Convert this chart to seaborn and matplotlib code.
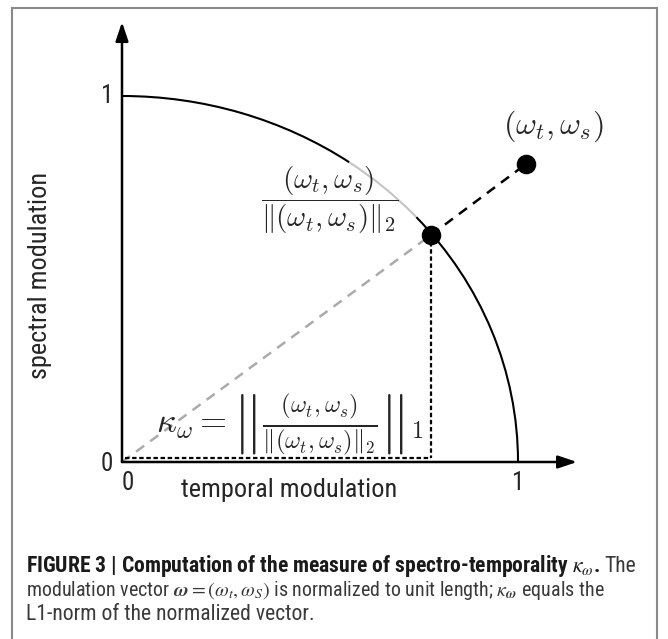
import numpy as np
import pandas as pd
import seaborn as sns
import matplotlib
matplotlib.use("Agg")
import matplotlib.pyplot as plt
from matplotlib.patches import Arc, Rectangle
from matplotlib import font_manager

# ---- data ----
outer_point = [1.02, 0.814]      # (omega_t, omega_s)
norm_point = [0.78, 0.62]        # normalized vector on the unit circle
tick_values = [0, 1]
tick_labels = ["0", "1"]
x_label = "temporal modulation"
y_label = "spectral modulation"

sns.set_theme(style="white")
avail = {f.name for f in font_manager.fontManager.ttflist}
font = "Liberation Sans"
width_factor = 1.0
for name, wf in [("Roboto Condensed", 0.88), ("Liberation Sans Narrow", 0.82)]:
    if name in avail:
        font, width_factor = name, wf
        break
plt.rcParams["font.family"] = [font, "DejaVu Sans"]
plt.rcParams["mathtext.fontset"] = "cm"

W, H = 668, 639
fig = plt.figure(figsize=(W / 100, H / 100), dpi=100)
ax = fig.add_axes([0, 0, 1, 1])
ox, oy, ux, uy = 122, 462, 396, 366
ax.set_xlim(-ox / ux, (W - ox) / ux)
ax.set_ylim(-(H - oy) / uy, oy / uy)
ax.axis("off")

# frame
fig.patches.append(Rectangle((12 / W, -0.05), (657 - 12) / W, 1.05 - 8 / H,
                             transform=fig.transFigure, fill=False,
                             edgecolor="#8a8a8a", lw=1.5))

# axes arrows
arrow_kw = dict(arrowstyle="-|>,head_length=0.95,head_width=0.32", lw=1.8,
                color="black", shrinkA=0, shrinkB=0)
ax.annotate("", xy=(0, 1.202), xytext=(0, 0), arrowprops=arrow_kw)
ax.annotate("", xy=(1.149, 0), xytext=(0, 0), arrowprops=arrow_kw)

# unit circle arc (part behind the label is greyed)
ax.add_patch(Arc((0, 0), 2, 2, theta1=0, theta2=42, lw=1.5, color="black", zorder=2))
ax.add_patch(Arc((0, 0), 2, 2, theta1=42, theta2=55, lw=1.5, color="#c4c4c4", zorder=2))
ax.add_patch(Arc((0, 0), 2, 2, theta1=55, theta2=90, lw=1.5, color="black", zorder=2))

# lines
ax.plot([0, norm_point[0]], [0, norm_point[1]], color="#ababab", lw=1.8,
        dashes=(4, 3), zorder=2)
ax.plot([norm_point[0], outer_point[0]], [norm_point[1], outer_point[1]],
        color="black", lw=1.8, dashes=(4, 3), zorder=2)
ax.plot([norm_point[0], norm_point[0]], [norm_point[1], 0.01], color="black",
        lw=1.6, dashes=(2, 1.2), zorder=2)
ax.plot([0.008, norm_point[0]], [0.01, 0.01], color="black",
        lw=1.6, dashes=(2, 1.2), zorder=2)

# points
dots = pd.DataFrame({"x": [norm_point[0], outer_point[0]],
                     "y": [norm_point[1], outer_point[1]]})
sns.scatterplot(data=dots, x="x", y="y", ax=ax, s=170, color="black",
                edgecolor="black", zorder=5, legend=False)

# tick labels
tfs = 18
ax.text(-0.022, tick_values[1], tick_labels[1], ha="right", va="center", fontsize=tfs)
ax.text(-0.022, tick_values[0] - 0.005, tick_labels[0], ha="right", va="center", fontsize=tfs)
ax.text(0.015, -0.025, tick_labels[0], ha="center", va="top", fontsize=tfs)
ax.text(tick_values[1], -0.025, tick_labels[1], ha="center", va="top", fontsize=tfs)

lfs = 16.6 / width_factor
ax.text(0.422, -0.077, x_label, ha="center", va="center", fontsize=lfs)
ax.text(-0.207, 0.51, y_label, ha="center", va="center", rotation=90, fontsize=lfs)

# math labels
ax.text(1.088, 0.918, r"$(\omega_t,\omega_s)$", ha="center", va="center", fontsize=23)
ax.text(0.525, 0.716, r"$\dfrac{(\omega_t,\omega_s)}{\|(\omega_t,\omega_s)\|_2}$",
        ha="center", va="center", fontsize=21, zorder=3)
ax.text(0.424, 0.10,
        r"$\kappa_\omega = \left\| \frac{(\omega_t,\omega_s)}{\|(\omega_t,\omega_s)\|_2} \right\|_1$",
        ha="center", va="center", fontsize=25, zorder=3)

# caption
cfs = 13.3 / width_factor
x0 = 26 / W
fig.canvas.draw()
r = fig.canvas.get_renderer()
y1 = 1 - 566 / H
t1 = fig.text(x0, y1, r"FIGURE 3 | Computation of the measure of spectro-temporality $\boldsymbol{\kappa_{\omega}}$.",
              family=font, weight="bold", fontsize=cfs * 1.033, va="center", ha="left",
              color="#1a1a1a", math_fontfamily="stix")
bb = t1.get_window_extent(r)
fig.text(bb.x1 / W + 4 / W, y1, "The", family=font, fontsize=cfs * 1.033, va="center",
         ha="left", color="#3a3a3a")
fig.text(x0, 1 - 590 / H,
         r"modulation vector $\boldsymbol{\omega} = (\omega_t, \omega_S)$ is normalized to unit length; $\kappa_{\boldsymbol{\omega}}$ equals the",
         family=font, fontsize=cfs * 0.955, va="center", ha="left", color="#3a3a3a",
         math_fontfamily="stix")
fig.text(x0, 1 - 614 / H, "L1-norm of the normalized vector.",
         family=font, fontsize=cfs * 1.03, va="center", ha="left", color="#3a3a3a")

fig.savefig("out.png", dpi=100)
